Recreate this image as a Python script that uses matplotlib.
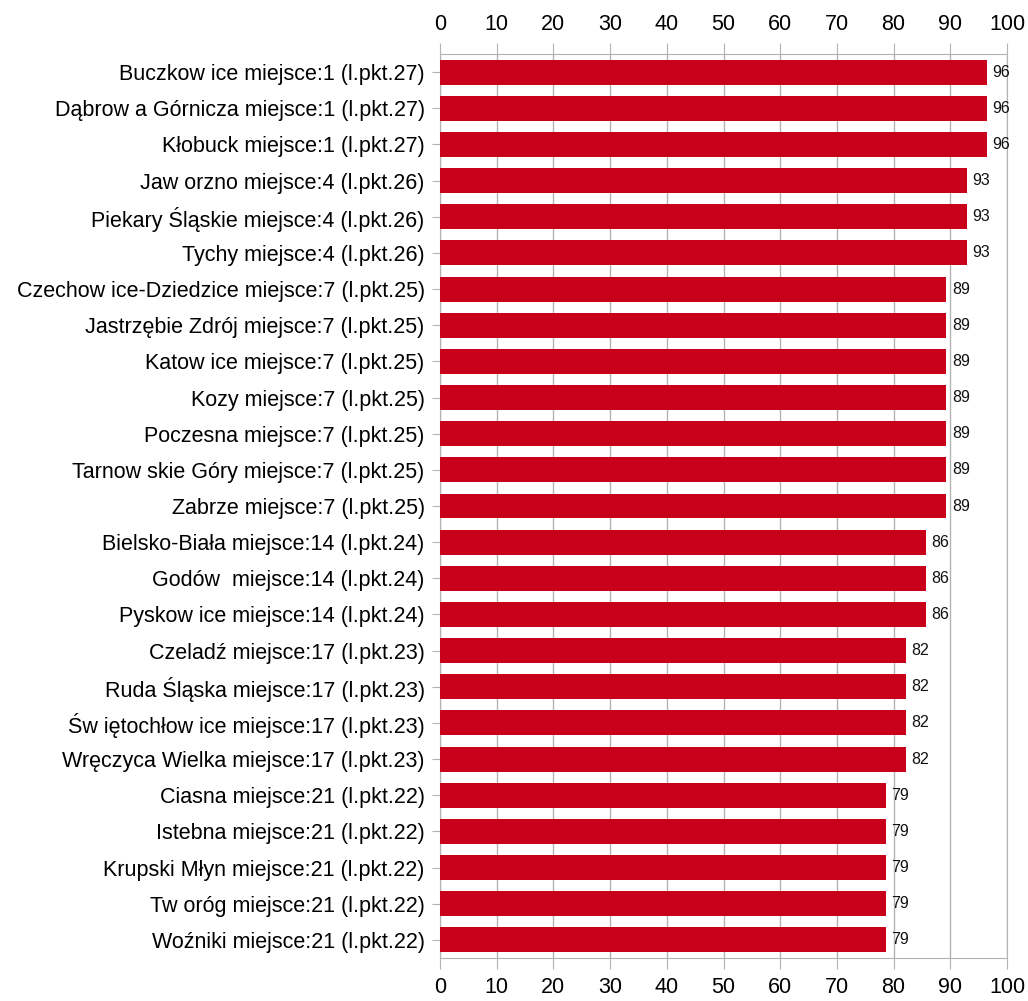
import matplotlib.pyplot as plt
import numpy as np

plt.rcParams['font.family'] = ['Liberation Sans', 'DejaVu Sans']

# ranking (from top to bottom), points out of 28
labels = [
    "Buczkow ice miejsce:1 (l.pkt.27)",
    "Dąbrow a Górnicza miejsce:1 (l.pkt.27)",
    "Kłobuck miejsce:1 (l.pkt.27)",
    "Jaw orzno miejsce:4 (l.pkt.26)",
    "Piekary Śląskie miejsce:4 (l.pkt.26)",
    "Tychy miejsce:4 (l.pkt.26)",
    "Czechow ice-Dziedzice miejsce:7 (l.pkt.25)",
    "Jastrzębie Zdrój miejsce:7 (l.pkt.25)",
    "Katow ice miejsce:7 (l.pkt.25)",
    "Kozy miejsce:7 (l.pkt.25)",
    "Poczesna miejsce:7 (l.pkt.25)",
    "Tarnow skie Góry miejsce:7 (l.pkt.25)",
    "Zabrze miejsce:7 (l.pkt.25)",
    "Bielsko-Biała miejsce:14 (l.pkt.24)",
    "Godów  miejsce:14 (l.pkt.24)",
    "Pyskow ice miejsce:14 (l.pkt.24)",
    "Czeladź miejsce:17 (l.pkt.23)",
    "Ruda Śląska miejsce:17 (l.pkt.23)",
    "Św iętochłow ice miejsce:17 (l.pkt.23)",
    "Wręczyca Wielka miejsce:17 (l.pkt.23)",
    "Ciasna miejsce:21 (l.pkt.22)",
    "Istebna miejsce:21 (l.pkt.22)",
    "Krupski Młyn miejsce:21 (l.pkt.22)",
    "Tw oróg miejsce:21 (l.pkt.22)",
    "Woźniki miejsce:21 (l.pkt.22)",
]
points = [27, 27, 27, 26, 26, 26, 25, 25, 25, 25, 25, 25, 25,
          24, 24, 24, 23, 23, 23, 23, 22, 22, 22, 22, 22]
max_points = 28
percent = [p / max_points * 100 for p in points]

fig = plt.figure(figsize=(10.28, 10.01), dpi=100)
ax = fig.add_axes([0.428, 0.043, 0.5516, 0.903])

y = np.arange(len(labels))
ax.barh(y, percent, height=0.69, color='#c9001a', zorder=3)
for yi, v in zip(y, percent):
    ax.text(v + 1.0, yi, "%d" % round(v), va='center', ha='left', fontsize=11.5, color='#111111')

ax.set_yticks(y)
ax.set_yticklabels(labels, fontsize=15.5)
ax.set_ylim(len(labels) - 0.5, -0.5)
ax.set_xlim(0, 100)
ax.set_xticks(np.arange(0, 101, 10))
ax.tick_params(axis='x', labelsize=15.5, top=True, labeltop=True, bottom=True, labelbottom=True,
               length=8, color='#b3b3b3', pad=6)
ax.tick_params(axis='y', length=6, color='#b3b3b3', pad=5)
ax.grid(axis='x', color='#b3b3b3', linewidth=1, zorder=0)
for name in ['top', 'bottom', 'right', 'left']:
    ax.spines[name].set_color('#b3b3b3')

fig.savefig('out.png', dpi=100)
